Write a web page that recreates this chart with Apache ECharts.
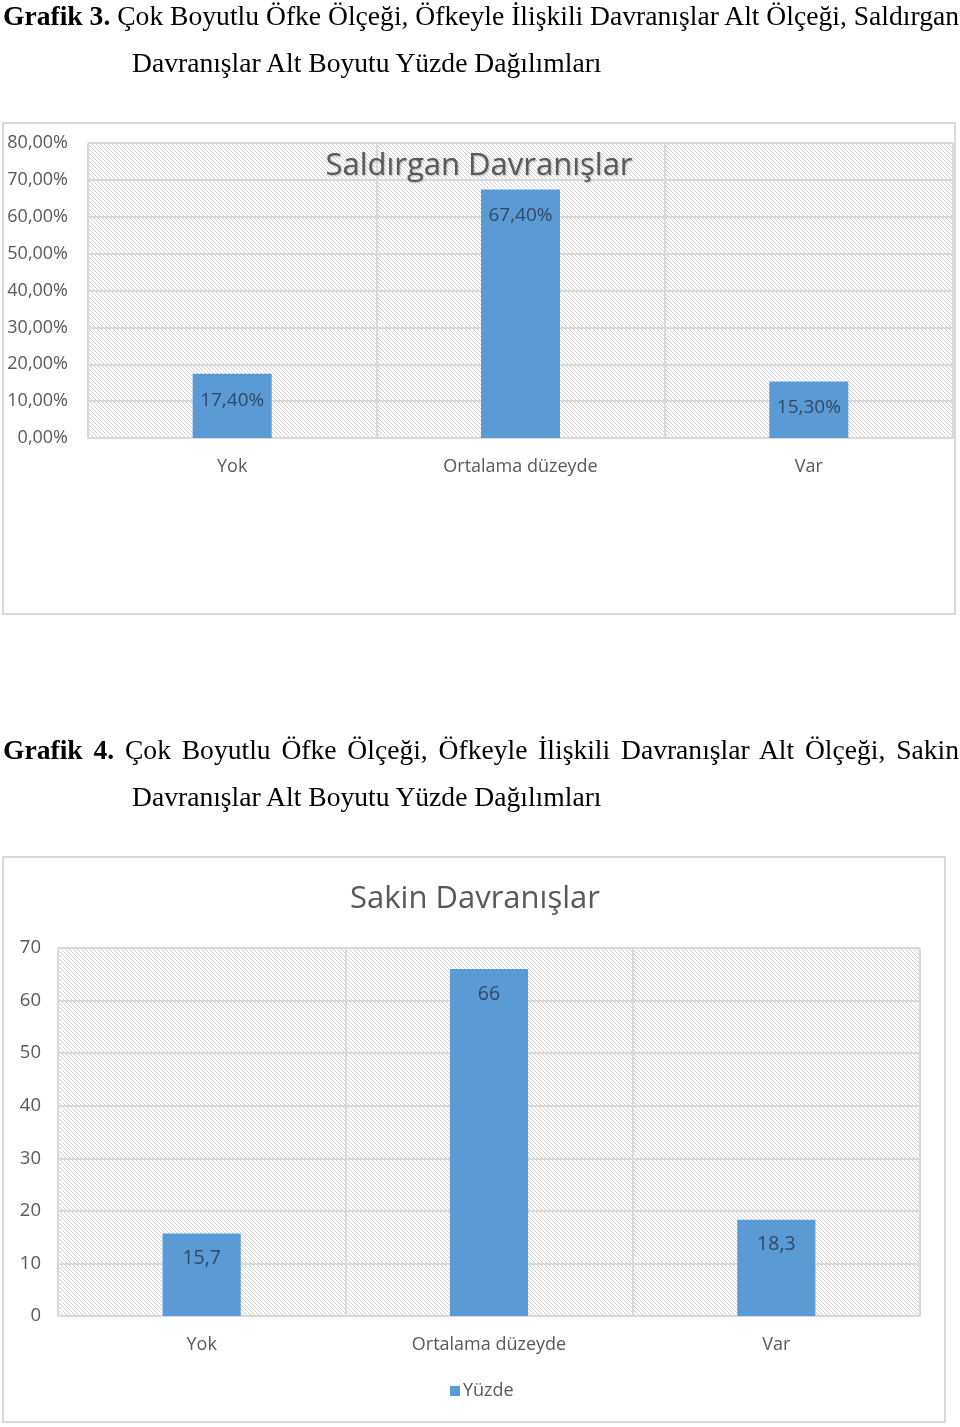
<!DOCTYPE html>
<html>
<head>
<meta charset="utf-8">
<script src="https://cdn.jsdelivr.net/npm/echarts@6/dist/echarts.min.js"></script>
<style>
  html, body { margin: 0; padding: 0; background: #fff; }
  body { width: 960px; height: 1427px; position: relative; overflow: hidden; }
  #chart { position: absolute; left: 0; top: 0; width: 960px; height: 1427px; }
  .cap { position: absolute; font-family: 'Liberation Serif', 'Times New Roman', serif; font-size: 27.6px; color: #000; white-space: nowrap; line-height: 32px; }
  .just { text-align: justify; text-align-last: justify; white-space: normal; }
</style>
</head>
<body>
<div id="chart"></div>
<div class="cap just" style="left:3px; top:0px; width:956px;"><b>Grafik 3.</b> Çok Boyutlu Öfke Ölçeği, Öfkeyle İlişkili Davranışlar Alt Ölçeği, Saldırgan</div>
<div class="cap" style="left:132px; top:47px;">Davranışlar Alt Boyutu Yüzde Dağılımları</div>
<div class="cap just" style="left:3px; top:734px; width:956px;"><b>Grafik 4.</b> Çok Boyutlu Öfke Ölçeği, Öfkeyle İlişkili Davranışlar Alt Ölçeği, Sakin</div>
<div class="cap" style="left:132px; top:781px;">Davranışlar Alt Boyutu Yüzde Dağılımları</div>
<script>
// ---- data ----
const categories = ['Yok', 'Ortalama düzeyde', 'Var'];
const aggressiveValues = [17.4, 67.4, 15.3];
const calmValues = [15.7, 66, 18.3];
const chart1Title = 'Saldırgan Davranışlar';
const chart2Title = 'Sakin Davranışlar';
const seriesName = 'Yüzde';
const axis1Max = 80;
const axis2Max = 70;
const axisInterval = 10;

// ---- hatch pattern ----
function makeHatch() {
  const c = document.createElement('canvas');
  c.width = 4; c.height = 4;
  const ctx = c.getContext('2d');
  ctx.fillStyle = '#ffffff';
  ctx.fillRect(0, 0, 4, 4);
  ctx.fillStyle = '#cfcfcf';
  for (let i = 0; i < 4; i++) ctx.fillRect(i, i, 1, 1);
  return c;
}
const hatch = { image: makeHatch(), repeat: 'repeat' };

const FONT = 'Open Sans';
const TXT = '#595959';
const GRID = '#d9d9d9';
const BAR = '#5b9bd5';
const LBL = '#2f4864';

const fmtPct = v => Number(v).toFixed(2).replace('.', ',') + '%';
const fmtNum = v => String(v).replace('.', ',');

const chart = echarts.init(document.getElementById('chart'), null, { renderer: 'canvas' });
chart.setOption({
  animation: false,
  textStyle: { fontFamily: FONT },
  graphic: [
    { type: 'rect', z: -10, shape: { x: 3, y: 123, width: 952, height: 491 }, style: { fill: '#fff', stroke: GRID, lineWidth: 2 } },
    { type: 'rect', z: -10, shape: { x: 3, y: 857, width: 942, height: 565 }, style: { fill: '#fff', stroke: GRID, lineWidth: 2 } }
  ],
  title: [
    { text: chart1Title, left: 474, top: 146, textAlign: 'center', textStyle: { fontFamily: FONT, fontSize: 31, fontWeight: 'normal', color: TXT, textShadowColor: 'rgba(0,0,0,0.25)', textShadowBlur: 2, textShadowOffsetX: 1, textShadowOffsetY: 1 } },
    { text: chart2Title, left: 470, top: 879, textAlign: 'center', textStyle: { fontFamily: FONT, fontSize: 31, fontWeight: 'normal', color: TXT } }
  ],
  legend: {
    data: [seriesName], left: 445, top: 1377, itemWidth: 10, itemHeight: 10, itemGap: 3, icon: 'rect',
    textStyle: { fontFamily: FONT, fontSize: 18, color: TXT, padding: [0, 0, 0, -2] }
  },
  grid: [
    { left: 88, top: 143, width: 865, height: 295, show: true, backgroundColor: hatch, borderWidth: 0 },
    { left: 58, top: 948, width: 862, height: 368, show: true, backgroundColor: hatch, borderWidth: 0 }
  ],
  xAxis: [0, 1].map(i => ({
    type: 'category', gridIndex: i, data: categories,
    axisLine: { show: true, lineStyle: { color: GRID, width: 2 } },
    axisTick: { show: false },
    axisLabel: { fontFamily: FONT, fontSize: 18, color: TXT, margin: 20 },
    splitLine: { show: true, lineStyle: { color: GRID, width: 2 } }
  })),
  yAxis: [
    { type: 'value', gridIndex: 0, min: 0, max: axis1Max, interval: axisInterval,
      axisLine: { show: false }, axisTick: { show: false },
      axisLabel: { fontFamily: FONT, fontSize: 18, color: TXT, margin: 20, padding: [4, 0, 0, 0], formatter: fmtPct },
      splitLine: { lineStyle: { color: GRID, width: 2 } } },
    { type: 'value', gridIndex: 1, min: 0, max: axis2Max, interval: axisInterval,
      axisLine: { show: false }, axisTick: { show: false },
      axisLabel: { fontFamily: FONT, fontSize: 18.5, color: TXT, margin: 17, padding: [4, 0, 0, 0], formatter: fmtNum },
      splitLine: { lineStyle: { color: GRID, width: 2 } } }
  ],
  series: [
    { type: 'bar', name: seriesName + ' ', xAxisIndex: 0, yAxisIndex: 0, data: aggressiveValues, barWidth: '27.4%',
      itemStyle: { color: BAR },
      label: { show: true, position: 'insideTop', distance: 17, fontFamily: FONT, fontSize: 19, color: LBL, formatter: p => fmtPct(p.value) } },
    { type: 'bar', name: seriesName, xAxisIndex: 1, yAxisIndex: 1, data: calmValues, barWidth: '27.2%',
      itemStyle: { color: BAR },
      label: { show: true, position: 'insideTop', distance: 15, fontFamily: FONT, fontSize: 19.5, color: LBL, formatter: p => fmtNum(p.value) } }
  ]
});
</script>
</body>
</html>
